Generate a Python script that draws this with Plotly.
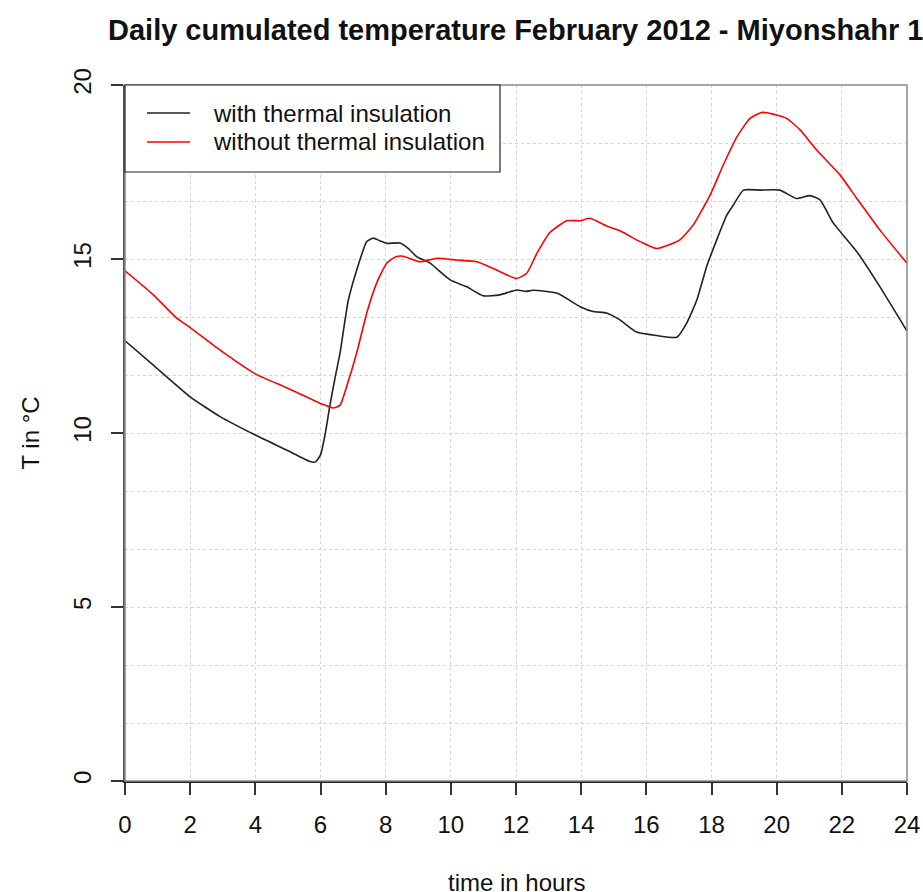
import plotly.graph_objects as go

# with thermal insulation (black)
hours_ins = [0, 0.87, 2.0, 2.92, 4.0, 4.96, 5.68, 5.85, 6.0, 6.15, 6.29, 6.45, 6.6, 6.85,
             7.11, 7.42, 7.62, 7.83, 8.03, 8.44, 8.7, 8.95, 9.36, 9.98, 10.49, 11.0, 11.5,
             12.02, 12.3, 12.53, 13.25, 13.97, 14.37, 14.78, 15.19, 15.7, 16.32, 16.93,
             17.24, 17.55, 17.85, 18.16, 18.47, 18.67, 18.98, 19.5, 20.1, 20.6, 21.02,
             21.33, 21.74, 22.46, 23.17, 24.0]
temp_ins = [12.65, 11.95, 11.04, 10.47, 9.94, 9.51, 9.18, 9.17, 9.37, 10.0, 10.8, 11.6, 12.3, 13.8,
            14.68, 15.5, 15.6, 15.52, 15.45, 15.46, 15.3, 15.07, 14.88, 14.4, 14.2, 13.94, 13.97,
            14.11, 14.07, 14.1, 14.02, 13.63, 13.49, 13.45, 13.25, 12.9, 12.8, 12.75,
            13.16, 13.82, 14.78, 15.55, 16.26, 16.55, 16.98, 16.98, 16.98, 16.74, 16.82,
            16.7, 16.03, 15.21, 14.2, 12.93]

# without thermal insulation (red)
hours_no = [0, 0.87, 1.59, 2.0, 2.92, 4.0, 4.96, 6.0, 6.39, 6.6, 6.8, 7.11, 7.42, 7.72,
            8.03, 8.3, 8.54, 9.05, 9.57, 10.18, 10.8, 11.3, 12.02, 12.33, 12.64, 13.04,
            13.56, 13.97, 14.27, 14.78, 15.19, 15.81, 16.32, 17.03, 17.44, 17.96, 18.36,
            18.78, 19.18, 19.54, 20.0, 20.31, 20.72, 21.23, 21.95, 22.46, 23.17, 24.0]
temp_no = [14.66, 13.97, 13.3, 13.03, 12.38, 11.7, 11.3, 10.85, 10.72, 10.8, 11.33, 12.3, 13.45, 14.3,
           14.88, 15.06, 15.08, 14.92, 15.02, 14.97, 14.92, 14.73, 14.44, 14.59, 15.16, 15.76,
           16.1, 16.1, 16.17, 15.95, 15.81, 15.5, 15.3, 15.55, 15.98, 16.84, 17.7,
           18.51, 19.04, 19.21, 19.14, 19.04, 18.71, 18.13, 17.41, 16.74, 15.83, 14.88]

x_ticks = list(range(0, 25, 2))
y_ticks = [0, 5, 10, 15, 20]
legend_names = ["with thermal insulation", "without thermal insulation"]
colors = ["#222222", "#ff0000"]

font = "Liberation Sans, Arial, Helvetica, sans-serif"

fig = go.Figure()
fig.add_trace(go.Scatter(x=hours_ins, y=temp_ins, mode="lines", name=legend_names[0],
                         line=dict(color=colors[0], width=1.6, shape="spline", smoothing=0.5)))
fig.add_trace(go.Scatter(x=hours_no, y=temp_no, mode="lines", name=legend_names[1],
                         line=dict(color=colors[1], width=1.6, shape="spline", smoothing=0.5)))

fig.update_layout(
    width=923, height=892,
    margin=dict(l=125, r=16, t=85, b=111),
    plot_bgcolor="white", paper_bgcolor="white",
    showlegend=False,
    font=dict(family=font, size=24, color="#111"),
)

fig.update_xaxes(range=[0, 24], tickvals=x_ticks, ticks="outside", ticklen=12, tickwidth=1.5,
                 tickcolor="#333", showline=True, linecolor="#222", linewidth=2,
                 showgrid=True, gridcolor="#d3d3d3", griddash="dot", gridwidth=1,
                 zeroline=False, ticklabelstandoff=9, automargin=False)
fig.update_yaxes(range=[0, 20], tickvals=y_ticks, ticks="outside", ticklen=12, tickwidth=1.5,
                 tickcolor="#333", showline=True, linecolor="#555", linewidth=2,
                 tickangle=-90, showgrid=False, zeroline=False, ticklabelstandoff=10,
                 automargin=False,
                 minor=dict(dtick=5 / 3, tick0=0, showgrid=True, gridcolor="#d3d3d3",
                            griddash="dot", gridwidth=1, ticks=""))

# plot box (top / right sides)
fig.add_shape(type="rect", xref="paper", yref="paper", x0=0, y0=0, x1=1, y1=1,
              line=dict(color="#888", width=1.5), layer="above")

# title, centred over the plot area like R's main title
fig.add_annotation(text="<b>Daily cumulated temperature February 2012 - Miyonshahr 1</b>",
                   xref="paper", yref="paper", x=0.5, y=1 + (85 - 30) / 696,
                   xanchor="center", yanchor="middle", showarrow=False,
                   font=dict(size=29, color="#111"))

# axis titles
fig.add_annotation(text="time in hours", xref="paper", yref="paper", x=0.5, y=-0.146,
                   showarrow=False, yanchor="middle", font=dict(size=24))
fig.add_annotation(text="T in °C", xref="paper", yref="paper", x=-0.122, y=0.5,
                   textangle=-90, showarrow=False, xanchor="center", font=dict(size=24))

# legend box drawn R-style
lx1 = (500 - 125) / 782
ly0 = (781 - 172) / 696
fig.add_shape(type="rect", xref="paper", yref="paper", x0=0, y0=ly0, x1=lx1, y1=1,
              line=dict(color="#222", width=1.2), fillcolor="white", layer="above")
for i, (name, col) in enumerate(zip(legend_names, colors)):
    yy = (781 - (113 + 29 * i)) / 696
    fig.add_shape(type="line", xref="paper", yref="paper", x0=22 / 782, x1=65 / 782,
                  y0=yy, y1=yy, line=dict(color=col, width=1.6), layer="above")
    fig.add_annotation(text=name, xref="paper", yref="paper", x=86 / 782, y=yy,
                       xanchor="left", yanchor="middle", showarrow=False,
                       font=dict(size=24, color="#111"))

# page body has a default 8px margin; drop it so the figure fills the window
fig.write_html("out.html", config={"displayModeBar": False},
               post_script="document.body.style.margin='0';")
